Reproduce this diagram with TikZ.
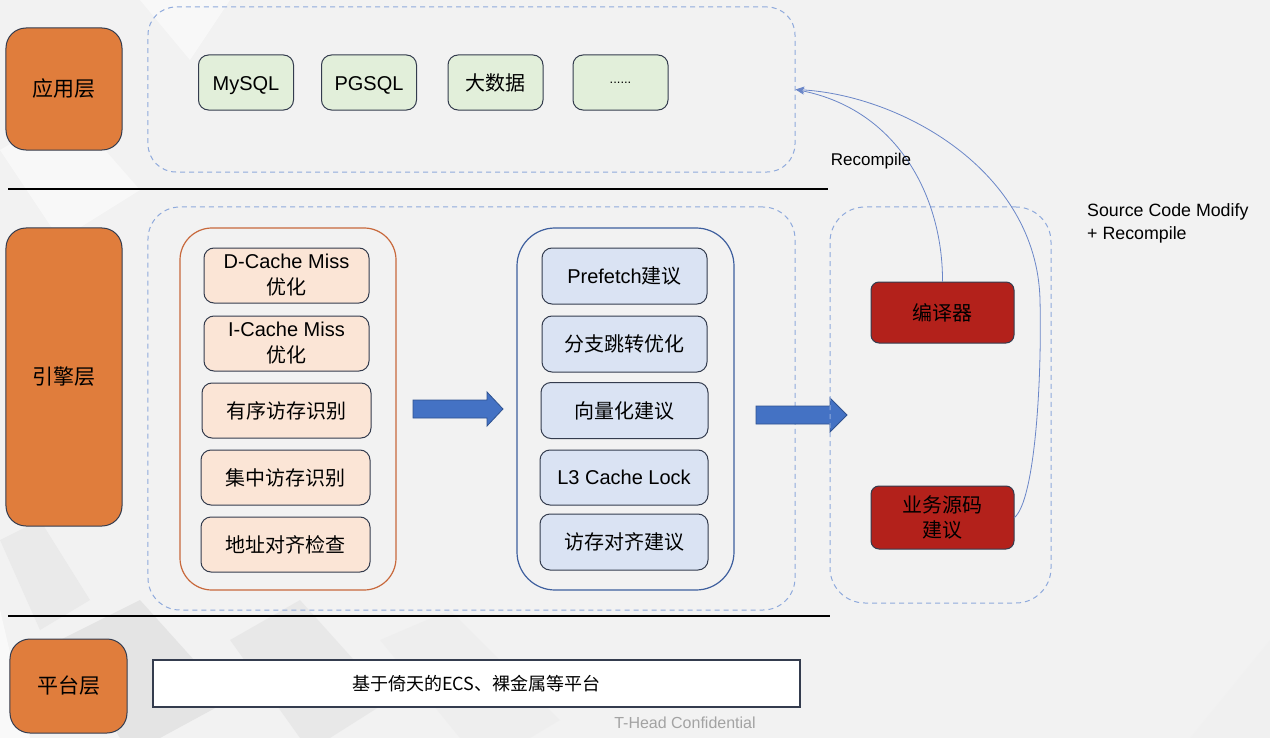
\documentclass[tikz,border=0pt]{standalone}
\usepackage{fontspec}
\setmainfont{Noto Sans CJK SC}
\newfontfamily\lat{Liberation Sans}
\usetikzlibrary{arrows.meta}
\definecolor{bgc}{HTML}{F2F2F2}
\definecolor{layerc}{HTML}{E07D3C}
\definecolor{darkb}{HTML}{343C4E}
\definecolor{greenf}{HTML}{E2EFDA}
\definecolor{peachf}{HTML}{FBE5D6}
\definecolor{bluef}{HTML}{DAE3F3}
\definecolor{dashc}{HTML}{8FAADC}
\definecolor{orangeb}{HTML}{C8693C}
\definecolor{blueb}{HTML}{3E5F9E}
\definecolor{redf}{HTML}{B3211B}
\definecolor{arrf}{HTML}{4472C4}
\definecolor{arrb}{HTML}{2F528F}
\definecolor{curvec}{HTML}{6A86C8}
\definecolor{grayt}{HTML}{A3A3A3}
\tikzset{
  lbl/.style={font=\fontsize{20bp}{24bp}\selectfont, align=center, text=black, inner sep=0pt},
  layerbox/.style={lbl, draw=darkb, fill=layerc, line width=1bp, rounded corners=20bp, font=\fontsize{21bp}{24bp}\selectfont},
  appbox/.style={lbl, draw=darkb, fill=greenf, line width=1bp, rounded corners=10bp, minimum width=95bp, minimum height=55bp},
  leftitem/.style={lbl, draw=darkb, fill=peachf, line width=1bp, rounded corners=10bp, minimum height=55bp, font=\fontsize{20bp}{26bp}\selectfont},
  rightitem/.style={lbl, draw=darkb, fill=bluef, line width=1bp, rounded corners=10bp, minimum height=56bp},
  redbox/.style={lbl, draw=darkb, fill=redf, line width=1bp, rounded corners=8bp, minimum width=143bp, font=\fontsize{20bp}{26bp}\selectfont},
  dashbox/.style={draw=dashc, dash pattern=on 5bp off 4bp, line width=1bp, inner sep=0pt},
  blockarrow/.style={fill=arrf, draw=arrb, line width=0.8bp},
  curvearrow/.style={draw=curvec, line width=0.8bp, -{Stealth[length=9bp,width=7bp]}},
  note/.style={font=\lat\fontsize{17.8bp}{23bp}\selectfont, text=black, inner sep=0pt, align=left}
}
\begin{document}
\begin{tikzpicture}[x=1bp, y=-1bp]
\useasboundingbox (0,0) rectangle (1270,738);
% background
\fill[bgc] (0,0) rectangle (1270,738);
\fill[white, opacity=0.5] (0,150) -- (70,110) -- (140,190) -- (60,240) -- cycle;
\fill[white, opacity=0.5] (140,0) -- (230,0) -- (190,60) -- cycle;
\fill[gray!20, opacity=0.6] (0,540) -- (40,520) -- (90,600) -- (40,630) -- cycle;
\fill[gray!28, opacity=0.6] (60,640) -- (140,600) -- (230,700) -- (160,738) -- (120,738) -- cycle;
\fill[gray!24, opacity=0.5] (230,640) -- (300,600) -- (390,700) -- (330,738) -- (300,738) -- cycle;
\fill[gray!16, opacity=0.5] (380,640) -- (450,610) -- (560,720) -- (530,738) -- (460,738) -- cycle;
\fill[white, opacity=0.6] (0,610) -- (30,738) -- (0,738) -- cycle;
\fill[gray!12, opacity=0.5] (1190,738) -- (1270,640) -- (1270,738) -- cycle;

% layer labels
\node[layerbox, minimum width=116bp, minimum height=122bp] (app) at (64,89) {应用层};
\node[layerbox, minimum width=116bp, minimum height=298bp] (eng) at (64,377) {引擎层};
\node[layerbox, minimum width=117bp, minimum height=94bp] (plat) at (68.5,686) {平台层};

% separators
\draw[black, line width=1.2bp] (8,189) -- (828,189);
\draw[black, line width=1.2bp] (8,616) -- (830,616);

% application layer
\node[dashbox, rounded corners=28bp, minimum width=647bp, minimum height=165bp] (appc) at (471.5,89.5) {};
\node[appbox] (mysql) at (246,82.5) {\raisebox{-3bp}[\height][\depth]{\lat MySQL}};
\node[appbox] (pgsql) at (369,82.5) {\raisebox{-3bp}[\height][\depth]{\lat PGSQL}};
\node[appbox] (bigdata) at (495.5,82.5) {大数据};
\node[appbox] (more) at (620.5,82.5) {\lat\fontsize{13bp}{15bp}\selectfont ......};

% engine layer
\node[dashbox, rounded corners=32bp, minimum width=647bp, minimum height=403bp] (engc) at (471.5,408.5) {};
\node[draw=orangeb, line width=1.2bp, rounded corners=32bp, minimum width=216bp, minimum height=362bp, inner sep=0pt] (leftc) at (288,409) {};
\node[leftitem, minimum width=165bp] (dc) at (286.5,275.5) {{\lat D-Cache Miss}\\[0bp]优化};
\node[leftitem, minimum width=165bp] (ic) at (286.5,343.5) {{\lat I-Cache Miss}\\[0bp]优化};
\node[leftitem, minimum width=169bp] (yx) at (286.5,410.5) {有序访存识别};
\node[leftitem, minimum width=169bp] (jz) at (285.5,477.5) {集中访存识别};
\node[leftitem, minimum width=169bp] (dz) at (285.5,544.5) {地址对齐检查};

\node[draw=blueb, line width=1.2bp, rounded corners=38bp, minimum width=217bp, minimum height=362bp, inner sep=0pt] (rightc) at (625.5,409) {};
\node[rightitem, minimum width=165bp] (pf) at (624.5,276) {{\lat Prefetch}建议};
\node[rightitem, minimum width=165bp] (fz) at (624.5,344) {分支跳转优化};
\node[rightitem, minimum width=167bp] (xl) at (624.5,410.5) {向量化建议};
\node[rightitem, minimum width=168bp, minimum height=55bp] (l3) at (624,477.5) {\lat L3 Cache Lock};
\node[rightitem, minimum width=168bp] (fc) at (624,542) {访存对齐建议};

% block arrows
\filldraw[blockarrow] (413,400) -- (487,400) -- (487,392) -- (503,409) -- (487,426) -- (487,418) -- (413,418) -- cycle;
\filldraw[blockarrow] (756,406) -- (830,406) -- (830,398) -- (847,415) -- (830,432) -- (830,424) -- (756,424) -- cycle;

% output side
\node[dashbox, rounded corners=35bp, minimum width=221bp, minimum height=396bp] (outc) at (940.5,405) {};
\node[redbox, minimum height=61bp] (cmp) at (942.5,312.5) {编译器};
\node[redbox, minimum height=63bp] (biz) at (942.5,517.5) {业务源码\\[-1bp]建议};

% feedback curves
\draw[curvearrow] (cmp.north) .. controls (943,200) and (900,110) .. (appc.east);
\draw[curvearrow] (biz.east) .. controls (1035,500) and (1042,380) .. (1040,300) .. controls (1037,170) and (900,95) .. (appc.east);

\node[note, anchor=center, font=\lat\fontsize{17bp}{20bp}\selectfont] (rc) at (871,161) {Recompile};
\node[note, anchor=west] (scm) at (1087,223.5) {Source Code Modify\\+ Recompile};

% platform layer
\node[draw=darkb, fill=white, line width=1.5bp, minimum width=647bp, minimum height=47bp, inner sep=0pt, font=\fontsize{18bp}{20bp}\selectfont] (platbox) at (476.5,683.5) {基于倚天的ECS、裸金属等平台};

\node[font=\lat\fontsize{16bp}{18bp}\selectfont, text=grayt, inner sep=0pt] (conf) at (685,723) {T-Head Confidential};
\end{tikzpicture}
\end{document}
